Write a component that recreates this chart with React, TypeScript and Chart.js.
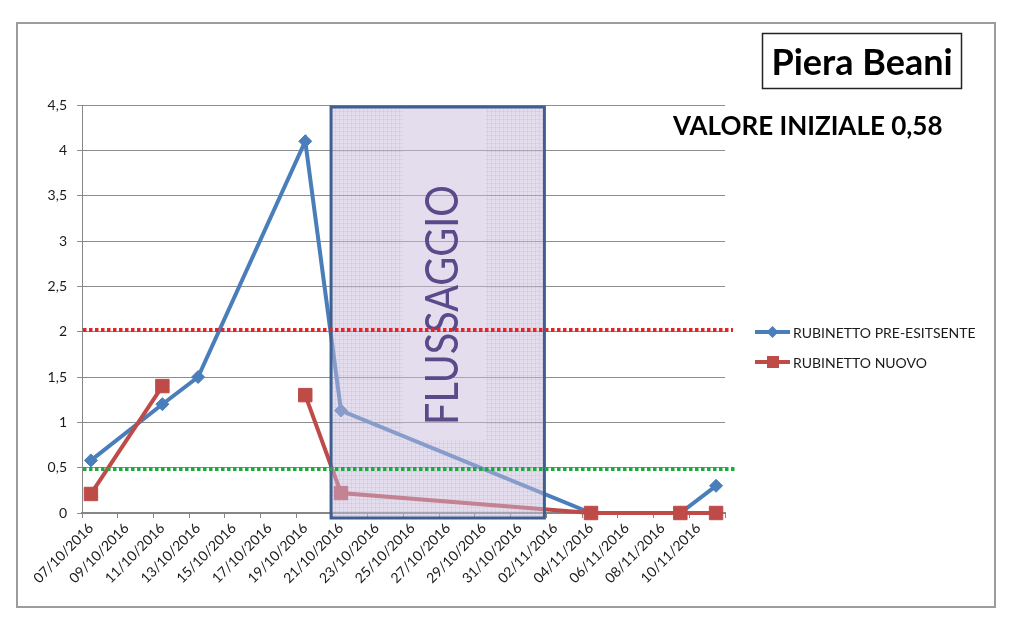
import React, { useEffect, useRef } from 'react';
import { Chart, registerables } from 'chart.js';

Chart.register(...registerables);

// every day on the date axis (category axis)
const ALL_DAYS = [
  '07/10/2016', '08/10/2016', '09/10/2016', '10/10/2016', '11/10/2016', '12/10/2016',
  '13/10/2016', '14/10/2016', '15/10/2016', '16/10/2016', '17/10/2016', '18/10/2016',
  '19/10/2016', '20/10/2016', '21/10/2016', '22/10/2016', '23/10/2016', '24/10/2016',
  '25/10/2016', '26/10/2016', '27/10/2016', '28/10/2016', '29/10/2016', '30/10/2016',
  '31/10/2016', '01/11/2016', '02/11/2016', '03/11/2016', '04/11/2016', '05/11/2016',
  '06/11/2016', '07/11/2016', '08/11/2016', '09/11/2016', '10/11/2016', '11/11/2016',
];

// labels shown on the axis (every second day)
const TICK_LABELS = [
  '07/10/2016', '09/10/2016', '11/10/2016', '13/10/2016', '15/10/2016', '17/10/2016',
  '19/10/2016', '21/10/2016', '23/10/2016', '25/10/2016', '27/10/2016', '29/10/2016',
  '31/10/2016', '02/11/2016', '04/11/2016', '06/11/2016', '08/11/2016', '10/11/2016',
];

const Y_TICKS = [0, 0.5, 1, 1.5, 2, 2.5, 3, 3.5, 4, 4.5];

// measurements
const MEASURE_DATES = [
  '07/10/2016', '11/10/2016', '13/10/2016', '19/10/2016',
  '21/10/2016', '04/11/2016', '09/11/2016', '11/11/2016',
];
const PRE_ESISTENTE = [0.58, 1.2, 1.5, 4.1, 1.13, 0, 0, 0.3];
const NUOVO = [0.21, 1.4, null, 1.3, 0.22, 0, 0, 0];

const SERIES_NAMES = ['RUBINETTO PRE-ESITSENTE', 'RUBINETTO NUOVO'];
const SOGLIA_ALTA = 2.02;
const SOGLIA_BASSA = 0.48;
const FLUSH_FIRST_DAY = '21/10/2016';
const FLUSH_LAST_DAY = '01/11/2016';

const TITLE = 'Piera Beani';
const SUBTITLE = 'VALORE INIZIALE 0,58';
const FLUSH_TEXT = 'FLUSSAGGIO';

const BLUE = '#4A7EBB';
const RED = '#BE4B48';
const FONT = 'Lato, "Open Sans", sans-serif';

export default function App() {
  const ref = useRef<HTMLCanvasElement>(null);

  useEffect(() => {
    const canvas = ref.current;
    if (!canvas) return;

    const decor = {
      id: 'decor',
      beforeDraw(chart: any) {
        const ctx = chart.ctx;
        ctx.save();
        ctx.fillStyle = '#ffffff';
        ctx.fillRect(0, 0, chart.width, chart.height);
        ctx.strokeStyle = '#9C9C9C';
        ctx.lineWidth = 2;
        ctx.strokeRect(17, 23, 978, 584);
        ctx.restore();
      },
      afterDatasetsDraw(chart: any) {
        const ctx = chart.ctx;
        const xs = chart.scales.x;
        const ys = chart.scales.y;
        const ca = chart.chartArea;
        const half = (ca.right - ca.left) / ALL_DAYS.length / 2;
        const bx0 = xs.getPixelForValue(ALL_DAYS.indexOf(FLUSH_FIRST_DAY)) - half - 1;
        const bx1 = xs.getPixelForValue(ALL_DAYS.indexOf(FLUSH_LAST_DAY)) + half - 2;
        const by0 = ys.getPixelForValue(4.5) + 2;
        const by1 = ys.getPixelForValue(0) + 5;

        ctx.save();
        // translucent box
        ctx.fillStyle = 'rgba(200, 188, 222, 0.5)';
        ctx.fillRect(bx0, by0, bx1 - bx0, by1 - by0);
        // grid pattern (not under the text box)
        const tx0 = 403, tx1 = 486, tyEnd = 440;
        ctx.beginPath();
        ctx.rect(bx0, by0, bx1 - bx0, by1 - by0);
        ctx.rect(tx1, by0, tx0 - tx1, tyEnd - by0);
        ctx.clip('evenodd');
        ctx.strokeStyle = 'rgba(150, 130, 195, 0.13)';
        ctx.lineWidth = 1;
        ctx.beginPath();
        for (let x = bx0 + 3.5; x < bx1; x += 4) {
          ctx.moveTo(Math.round(x) + 0.5, by0);
          ctx.lineTo(Math.round(x) + 0.5, by1);
        }
        for (let y = by0 + 3.5; y < by1; y += 4) {
          ctx.moveTo(bx0, Math.round(y) + 0.5);
          ctx.lineTo(bx1, Math.round(y) + 0.5);
        }
        ctx.stroke();
        ctx.restore();

        ctx.save();
        ctx.strokeStyle = '#3E5F8F';
        ctx.lineWidth = 3;
        ctx.strokeRect(bx0, by0, bx1 - bx0, by1 - by0);

        // vertical text
        ctx.translate(458, 305);
        ctx.rotate(-Math.PI / 2);
        ctx.fillStyle = '#5A4A8A';
        ctx.font = `46px ${FONT}`;
        ctx.textAlign = 'center';
        ctx.textBaseline = 'alphabetic';
        ctx.fillText(FLUSH_TEXT, 0, 0, 240);
        ctx.restore();

        // threshold dotted lines
        ctx.save();
        ctx.lineWidth = 4;
        ctx.setLineDash([3.5, 2.5]);
        ctx.strokeStyle = '#E1262A';
        const yr = Math.round(ys.getPixelForValue(SOGLIA_ALTA));
        ctx.beginPath();
        ctx.moveTo(ca.left + 1, yr);
        ctx.lineTo(733, yr);
        ctx.stroke();
        ctx.strokeStyle = '#1EAA3E';
        const yg = Math.round(ys.getPixelForValue(SOGLIA_BASSA));
        ctx.beginPath();
        ctx.moveTo(ca.left + 1, yg);
        ctx.lineTo(737, yg);
        ctx.stroke();
        ctx.restore();

        // legend
        ctx.save();
        const items = [
          { name: SERIES_NAMES[0], color: BLUE, y: 332, w: 185, diamond: true },
          { name: SERIES_NAMES[1], color: RED, y: 362, w: 135, diamond: false },
        ];
        for (const it of items) {
          ctx.strokeStyle = it.color;
          ctx.fillStyle = it.color;
          ctx.lineWidth = 4;
          ctx.beginPath();
          ctx.moveTo(755, it.y);
          ctx.lineTo(790, it.y);
          ctx.stroke();
          ctx.beginPath();
          if (it.diamond) {
            ctx.moveTo(772.5, it.y - 6);
            ctx.lineTo(778.5, it.y);
            ctx.lineTo(772.5, it.y + 6);
            ctx.lineTo(766.5, it.y);
            ctx.closePath();
          } else {
            ctx.rect(767, it.y - 6, 12, 12);
          }
          ctx.fill();
          ctx.fillStyle = '#1a1a1a';
          ctx.font = `14px ${FONT}`;
          ctx.textAlign = 'left';
          ctx.textBaseline = 'middle';
          ctx.fillText(it.name, 793, it.y + 1, it.w);
        }
        ctx.restore();

        // titles
        ctx.save();
        ctx.strokeStyle = '#222';
        ctx.lineWidth = 1.5;
        ctx.strokeRect(762.5, 33.5, 199, 55);
        ctx.fillStyle = '#000';
        ctx.font = `bold 36px ${FONT}`;
        ctx.textAlign = 'center';
        ctx.textBaseline = 'alphabetic';
        ctx.fillText(TITLE, 862, 75, 186);
        ctx.font = `bold 26px ${FONT}`;
        ctx.textAlign = 'left';
        ctx.fillText(SUBTITLE, 673, 135, 270);
        ctx.restore();
      },
    };

    const chart = new Chart(canvas, {
      type: 'line',
      data: {
        labels: ALL_DAYS,
        datasets: [
          {
            label: SERIES_NAMES[0],
            data: MEASURE_DATES.map((d, i) => ({ x: d, y: PRE_ESISTENTE[i] })),
            borderColor: BLUE,
            backgroundColor: BLUE,
            borderWidth: 4,
            pointStyle: 'rectRot',
            pointRadius: 6.5,
            pointBorderWidth: 1,
            pointBorderColor: BLUE,
            pointBackgroundColor: BLUE,
            tension: 0,
            clip: false,
            order: 1,
          },
          {
            label: SERIES_NAMES[1],
            data: MEASURE_DATES.map((d, i) => ({ x: d, y: NUOVO[i] })),
            borderColor: RED,
            backgroundColor: RED,
            borderWidth: 4,
            pointStyle: 'rect',
            pointRadius: 9.5,
            pointBorderWidth: 1,
            pointBorderColor: RED,
            pointBackgroundColor: RED,
            spanGaps: false,
            tension: 0,
            clip: false,
            order: 0,
          },
        ],
      },
      options: {
        animation: false,
        responsive: true,
        maintainAspectRatio: false,
        layout: { padding: { left: 0, top: 105, right: 298, bottom: 0 } },
        plugins: {
          legend: { display: false },
          tooltip: { enabled: false },
          title: { display: false },
        },
        scales: {
          x: {
            type: 'category',
            offset: true,
            grid: {
              offset: true,
              drawOnChartArea: false,
              drawTicks: true,
              tickLength: 5,
              color: (c: any) => ((c.index ?? 0) % 2 === 0 ? '#868686' : 'rgba(0,0,0,0)'),
            },
            border: { color: '#868686', width: 2 },
            ticks: {
              autoSkip: false,
              maxRotation: 45,
              minRotation: 45,
              padding: 2,
              color: '#1a1a1a',
              font: { family: FONT, size: 14 },
              callback: (_v: any, i: number) => (i % 2 === 0 ? TICK_LABELS[i / 2] : ''),
            },
            afterFit: (s: any) => {
              s.height = 116;
            },
          },
          y: {
            min: 0,
            max: 4.5,
            afterBuildTicks: (s: any) => {
              s.ticks = Y_TICKS.map((v) => ({ value: v }));
            },
            grid: { color: '#8C8C8C', lineWidth: 1, drawTicks: true, tickLength: 5 },
            border: { color: '#868686', width: 1 },
            ticks: {
              padding: 10,
              color: '#1a1a1a',
              font: { family: FONT, size: 14 },
              callback: (v: any) => String(v).replace('.', ','),
            },
            afterFit: (s: any) => {
              s.width = 82;
            },
          },
        },
      },
      plugins: [decor],
    });

    return () => chart.destroy();
  }, []);

  return (
    <div style={{ position: 'fixed', left: 0, top: 0, width: 1023, height: 629, background: '#fff' }}>
      <canvas ref={ref} />
    </div>
  );
}
